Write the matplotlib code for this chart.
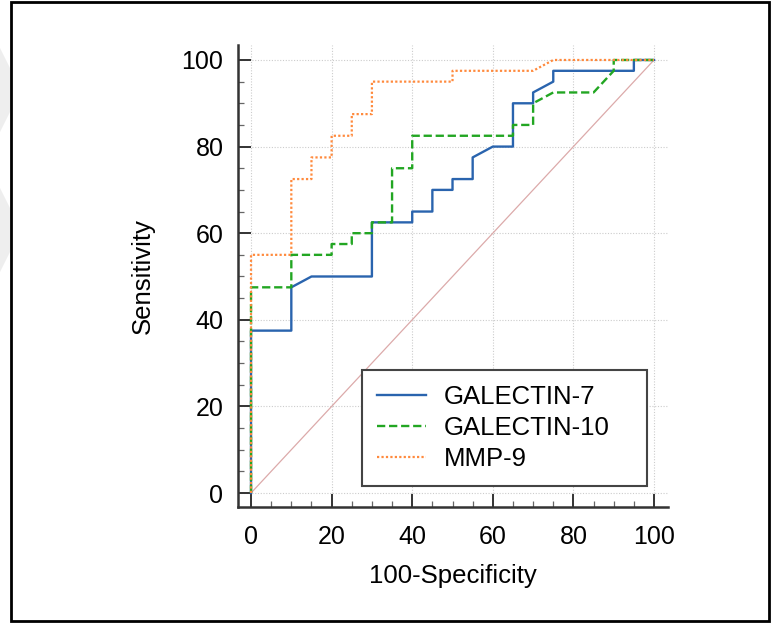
import matplotlib
matplotlib.use("Agg")
import matplotlib.pyplot as plt
from matplotlib.patches import Rectangle, Polygon

plt.rcParams['font.family'] = ['Liberation Sans', 'DejaVu Sans']

# ROC curves (100-Specificity, Sensitivity)
gal7_x = [0, 0, 10, 10, 15, 30, 30, 40, 40, 45, 45, 50, 50, 55, 55, 60, 65, 65, 70, 70, 75, 75, 95, 95, 100]
gal7_y = [0, 37.5, 37.5, 47.5, 50, 50, 62.5, 62.5, 65, 65, 70, 70, 72.5, 72.5, 77.5, 80, 80, 90, 90, 92.5, 95, 97.5, 97.5, 100, 100]

gal10_x = [0, 0, 10, 10, 20, 20, 25, 25, 30, 30, 35, 35, 40, 40, 65, 65, 70, 70, 75, 85, 90, 90, 100]
gal10_y = [0, 47.5, 47.5, 55, 55, 57.5, 57.5, 60, 60, 62.5, 62.5, 75, 75, 82.5, 82.5, 85, 85, 90, 92.5, 92.5, 97.5, 100, 100]

mmp9_x = [0, 0, 10, 10, 15, 15, 20, 20, 25, 25, 30, 30, 50, 50, 70, 75, 100]
mmp9_y = [0, 55, 55, 72.5, 72.5, 77.5, 77.5, 82.5, 82.5, 87.5, 87.5, 95, 95, 97.5, 97.5, 100, 100]

labels = ["GALECTIN-7", "GALECTIN-10", "MMP-9"]
ticks = [0, 20, 40, 60, 80, 100]

W, H = 771, 627
fig = plt.figure(figsize=(W / 100, H / 100), dpi=100)

# faint watermark shapes at the left edge
def px(x, y):
    return (x / W, 1 - y / H)

for top in [48, 188]:
    pts = [px(0, top), px(11, top + 22), px(11, top + 62), px(0, top + 84)]
    fig.patches.append(Polygon(pts, closed=True, transform=fig.transFigure,
                               facecolor="#eeeeee", edgecolor="none", zorder=0))

# outer frame
fig.patches.append(Rectangle((11 / W, 1 - 621 / H), (769 - 11) / W, (621 - 2) / H,
                             transform=fig.transFigure, fill=False,
                             edgecolor="black", linewidth=2.0, zorder=1))

ax = fig.add_axes([238 / W, 1 - 507 / H, (668 - 238) / W, (507 - 45) / H])
ax.set_xlim(-3.23, 103.47)
ax.set_ylim(-3.23, 103.46)

ax.plot([0, 100], [0, 100], color="#dcaaaa", linewidth=0.9, zorder=2)
ax.plot(gal7_x, gal7_y, color="#2a64ae", linewidth=1.7, linestyle="-", label=labels[0], zorder=3)
ax.plot(gal10_x, gal10_y, color="#22a622", linewidth=1.7, linestyle=(0, (3.5, 1.6)), label=labels[1], zorder=4)
ax.plot(mmp9_x, mmp9_y, color="#ff8a3d", linewidth=1.6, linestyle=(0, (1, 1)), label=labels[2], zorder=5)

ax.set_xticks(ticks)
ax.set_yticks(ticks)
ax.set_xticks(range(0, 101, 5), minor=True)
ax.set_yticks(range(0, 101, 5), minor=True)
ax.grid(True, which="major", color="#cccccc", linestyle=(0, (1, 1.5)), linewidth=0.8)

for s in ["top", "right"]:
    ax.spines[s].set_visible(False)
for s in ["left", "bottom"]:
    ax.spines[s].set_linewidth(1.8)
    ax.spines[s].set_color("#333333")

ax.tick_params(which="major", direction="in", length=9.4, width=1.4, color="#333333",
               labelsize=18)
ax.tick_params(axis="x", which="major", pad=13)
ax.tick_params(axis="y", which="major", pad=10.5)
ax.tick_params(which="minor", direction="in", length=4.3, width=0.9, color="#666666")

ax.set_xlabel("100-Specificity", fontsize=18.5, labelpad=11)
ax.set_ylabel("Sensitivity", fontsize=18.5, labelpad=19)

leg = ax.legend(loc="lower left",
                bbox_to_anchor=((362 - 238) / 430, (507 - 486) / 462, (647 - 362) / 430, 0.2),
                mode="expand", borderaxespad=0, fontsize=18.5, handlelength=1.9,
                handletextpad=0.7, borderpad=0.6, labelspacing=0.26,
                fancybox=False, framealpha=1)
leg.get_frame().set_edgecolor("#444444")
leg.get_frame().set_linewidth(1.5)

fig.savefig("out.png", dpi=100)
